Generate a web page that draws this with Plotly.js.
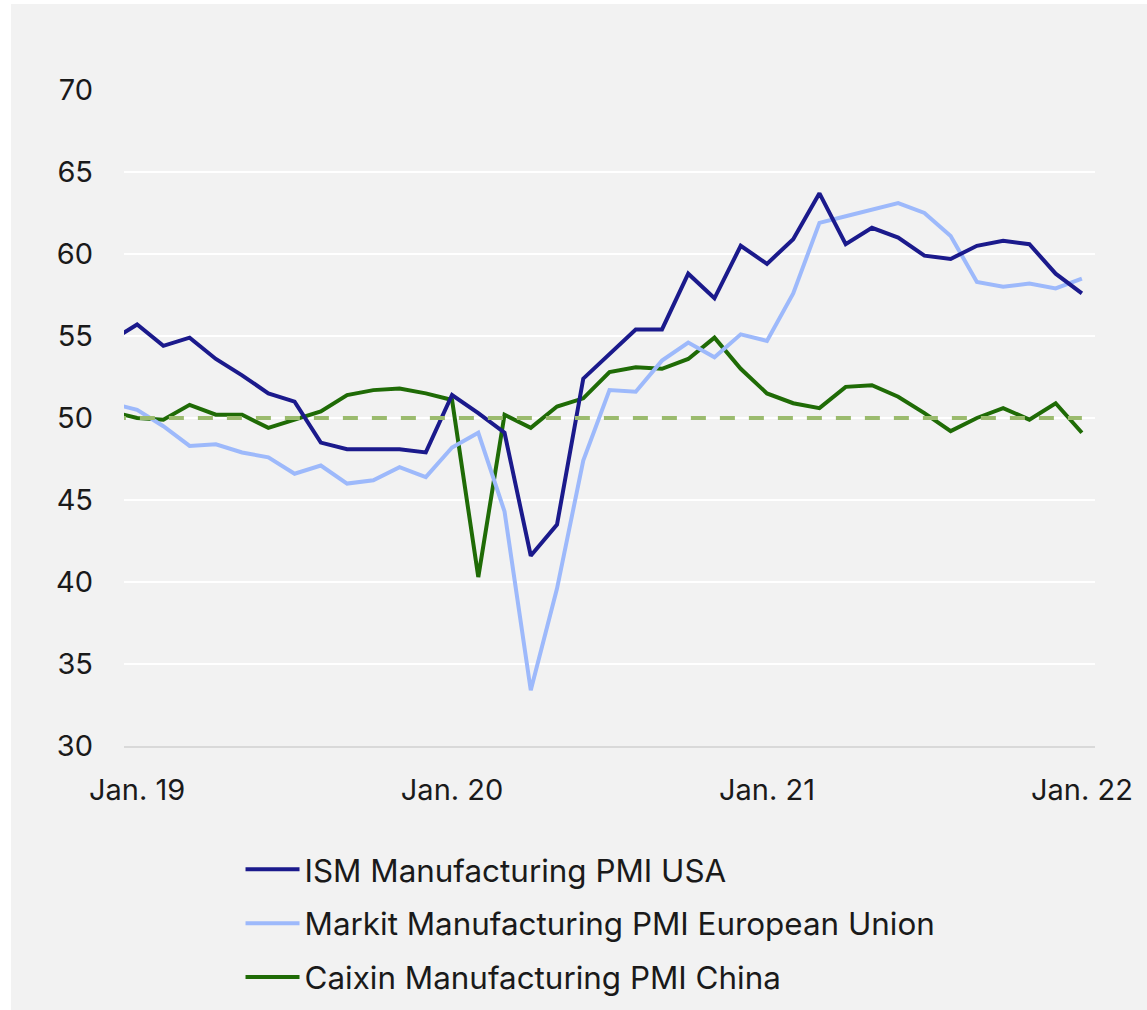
<!DOCTYPE html>
<html>
<head>
<meta charset="utf-8">
<script src="https://cdn.plot.ly/plotly-3.0.1.min.js"></script>
<style>
  html, body { margin: 0; padding: 0; background: #ffffff; }
  #chart { position: absolute; left: 11px; top: 4px; width: 1136px; height: 1006px; }
</style>
</head>
<body>
<div id="chart"></div>
<script>
const months = ['2018-12',
  '2019-01','2019-02','2019-03','2019-04','2019-05','2019-06','2019-07','2019-08','2019-09','2019-10','2019-11','2019-12',
  '2020-01','2020-02','2020-03','2020-04','2020-05','2020-06','2020-07','2020-08','2020-09','2020-10','2020-11','2020-12',
  '2021-01','2021-02','2021-03','2021-04','2021-05','2021-06','2021-07','2021-08','2021-09','2021-10','2021-11','2021-12',
  '2022-01'];

const ismUSA = [54.7,
  55.7, 54.4, 54.9, 53.6, 52.6, 51.5, 51.0, 48.5, 48.1, 48.1, 48.1, 47.9,
  51.4, 50.3, 49.1, 41.6, 43.5, 52.4, 53.9, 55.4, 55.4, 58.8, 57.3, 60.5,
  59.4, 60.9, 63.7, 60.6, 61.6, 61.0, 59.9, 59.7, 60.5, 60.8, 60.6, 58.8,
  57.6];

const markitEU = [50.9,
  50.5, 49.5, 48.3, 48.4, 47.9, 47.6, 46.6, 47.1, 46.0, 46.2, 47.0, 46.4,
  48.2, 49.1, 44.3, 33.4, 39.6, 47.4, 51.7, 51.6, 53.5, 54.6, 53.7, 55.1,
  54.7, 57.6, 61.9, 62.3, 62.7, 63.1, 62.5, 61.1, 58.3, 58.0, 58.2, 57.9,
  58.5];

const caixinChina = [50.4,
  50.0, 49.9, 50.8, 50.2, 50.2, 49.4, 49.9, 50.4, 51.4, 51.7, 51.8, 51.5,
  51.1, 40.3, 50.2, 49.4, 50.7, 51.2, 52.8, 53.1, 53.0, 53.6, 54.9, 53.0,
  51.5, 50.9, 50.6, 51.9, 52.0, 51.3, 50.3, 49.2, 50.0, 50.6, 49.9, 50.9,
  49.1];

const threshold = [50,
  50, 50, 50, 50, 50, 50, 50, 50, 50, 50, 50, 50,
  50, 50, 50, 50, 50, 50, 50, 50, 50, 50, 50, 50,
  50, 50, 50, 50, 50, 50, 50, 50, 50, 50, 50, 50,
  50];

const seriesNames = ['ISM Manufacturing PMI USA', 'Markit Manufacturing PMI European Union', 'Caixin Manufacturing PMI China'];
const tickMonths = ['2019-01', '2020-01', '2021-01', '2022-01'];
const tickLabels = ['Jan. 19', 'Jan. 20', 'Jan. 21', 'Jan. 22'];
const yTicks = [30, 35, 40, 45, 50, 55, 60, 65, 70];

const FONT = 'Inter, "Noto Sans", "Liberation Sans", sans-serif';
const TXT = '#1a1a1a';

const traces = [
  { x: months, y: caixinChina, name: seriesNames[2], type: 'scatter', mode: 'lines',
    line: { color: '#1F6B06', width: 4 }, legendrank: 3, legendgroup: 'c' },
  { x: months, y: markitEU, name: seriesNames[1], type: 'scatter', mode: 'lines',
    line: { color: '#9DB9FB', width: 4 }, legendrank: 2, legendgroup: 'b' },
  { x: months, y: ismUSA, name: seriesNames[0], type: 'scatter', mode: 'lines',
    line: { color: '#1B1A8C', width: 4 }, legendrank: 1, legendgroup: 'a' },
  { x: months, y: threshold, name: '50', type: 'scatter', mode: 'lines', showlegend: false,
    line: { color: '#9BBB6E', width: 4, dash: '15px,14px' } }
];

const layout = {
  width: 1136, height: 1006,
  paper_bgcolor: '#F2F2F2', plot_bgcolor: '#F2F2F2',
  margin: { l: 113, r: 52, t: 86, b: 264, autoexpand: false },
  font: { family: FONT, size: 29, color: TXT },
  showlegend: true,
  xaxis: {
    type: 'category', categoryorder: 'array', categoryarray: months,
    range: [0.5, 37.5], tickangle: 0, automargin: false,
    tickmode: 'array', tickvals: tickMonths, ticktext: tickLabels,
    showgrid: false, zeroline: false,
    showline: true, linecolor: '#D9D9D9', linewidth: 2,
    ticks: '', ticklabelstandoff: 17,
    tickfont: { family: FONT, size: 29, color: TXT }
  },
  yaxis: {
    range: [30, 70], tickmode: 'array', tickvals: yTicks, automargin: false,
    showgrid: true, gridcolor: '#FFFFFF', gridwidth: 2,
    zeroline: false, showline: false, ticks: '', ticklabelstandoff: 30,
    tickfont: { family: FONT, size: 29, color: TXT }
  },
  legend: {
    x: 0.12, y: -0.147, xanchor: 'left', yanchor: 'top',
    bgcolor: 'rgba(0,0,0,0)', traceorder: 'grouped',
    tracegroupgap: 10, itemwidth: 54,
    font: { family: FONT, size: 31.4, color: TXT }
  }
};

Plotly.newPlot('chart', traces, layout, { displayModeBar: false, staticPlot: true });
</script>
</body>
</html>
